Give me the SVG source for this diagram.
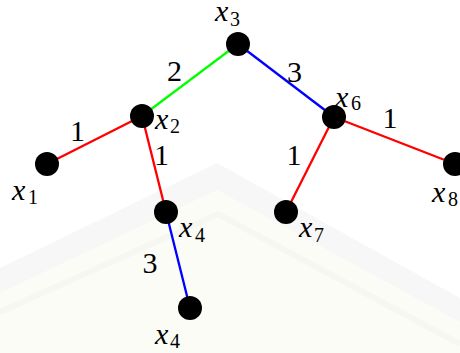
<svg xmlns="http://www.w3.org/2000/svg" width="460" height="353" viewBox="0 0 460 353">
<style>
.edge{stroke-width:2.3;fill:none}
.r{stroke:#ff0000}.g{stroke:#00ff00}.b{stroke:#0000ff}
.node circle{fill:#000}
.v{font-family:"Liberation Serif","Times New Roman",serif;font-style:italic;font-size:30px;fill:#000}
.s{font-family:"Liberation Serif","Times New Roman",serif;font-size:20px;fill:#000}
.w{font-family:"Liberation Serif","Times New Roman",serif;font-size:30px;fill:#000;text-anchor:middle}
</style>
<rect width="460" height="353" fill="#ffffff"/>
<g id="watermark">
<polygon points="217,163 460,298 460,353 0,353 0,268" fill="#f7f7f7"/>
<polygon points="217,190 460,322 460,353 0,353 0,293" fill="#fcfcf7"/>
<polyline points="0,312 218,214 460,344" fill="none" stroke="#f6f6f2" stroke-width="6"/>
</g>
<g id="connectors">
<line class="edge g" x1="238" y1="44" x2="142" y2="116"/>
<line class="edge b" x1="238" y1="44" x2="334" y2="117"/>
<line class="edge r" x1="142" y1="116" x2="47" y2="164"/>
<line class="edge r" x1="142" y1="116" x2="166" y2="212"/>
<line class="edge b" x1="166" y1="212" x2="190" y2="308"/>
<line class="edge r" x1="334" y1="117" x2="286" y2="212"/>
<line class="edge r" x1="334" y1="117" x2="455" y2="164"/>
<text class="w" x="174.5" y="81">2</text>
<text class="w" x="294.5" y="82">3</text>
<text class="w" x="77.5" y="141">1</text>
<text class="w" x="161.5" y="165">1</text>
<text class="w" x="390" y="128">1</text>
<text class="w" x="294" y="165">1</text>
<text class="w" x="150" y="273">3</text>
</g>
<g id="n3" class="node"><circle cx="238" cy="44" r="12"/><text class="v" x="215" y="21">x</text><text class="s" x="230" y="26">3</text></g>
<g id="n2" class="node"><circle cx="142" cy="116" r="12"/><text class="v" x="155" y="129">x</text><text class="s" x="170" y="133">2</text></g>
<g id="n1" class="node"><circle cx="47" cy="164" r="12"/><text class="v" x="12" y="200">x</text><text class="s" x="28" y="204">1</text></g>
<g id="n6" class="node"><circle cx="334" cy="117" r="12"/><text class="v" x="335" y="107">x</text><text class="s" x="351" y="110">6</text></g>
<g id="n8" class="node"><circle cx="455" cy="164" r="12"/><text class="v" x="432" y="202">x</text><text class="s" x="448" y="206">8</text></g>
<g id="n4a" class="node"><circle cx="166" cy="212" r="12"/><text class="v" x="179" y="237">x</text><text class="s" x="195" y="242">4</text></g>
<g id="n7" class="node"><circle cx="286" cy="212" r="12"/><text class="v" x="299" y="237">x</text><text class="s" x="314" y="242">7</text></g>
<g id="n4b" class="node"><circle cx="190" cy="308" r="12"/><text class="v" x="155" y="344">x</text><text class="s" x="170" y="348">4</text></g>
</svg>
